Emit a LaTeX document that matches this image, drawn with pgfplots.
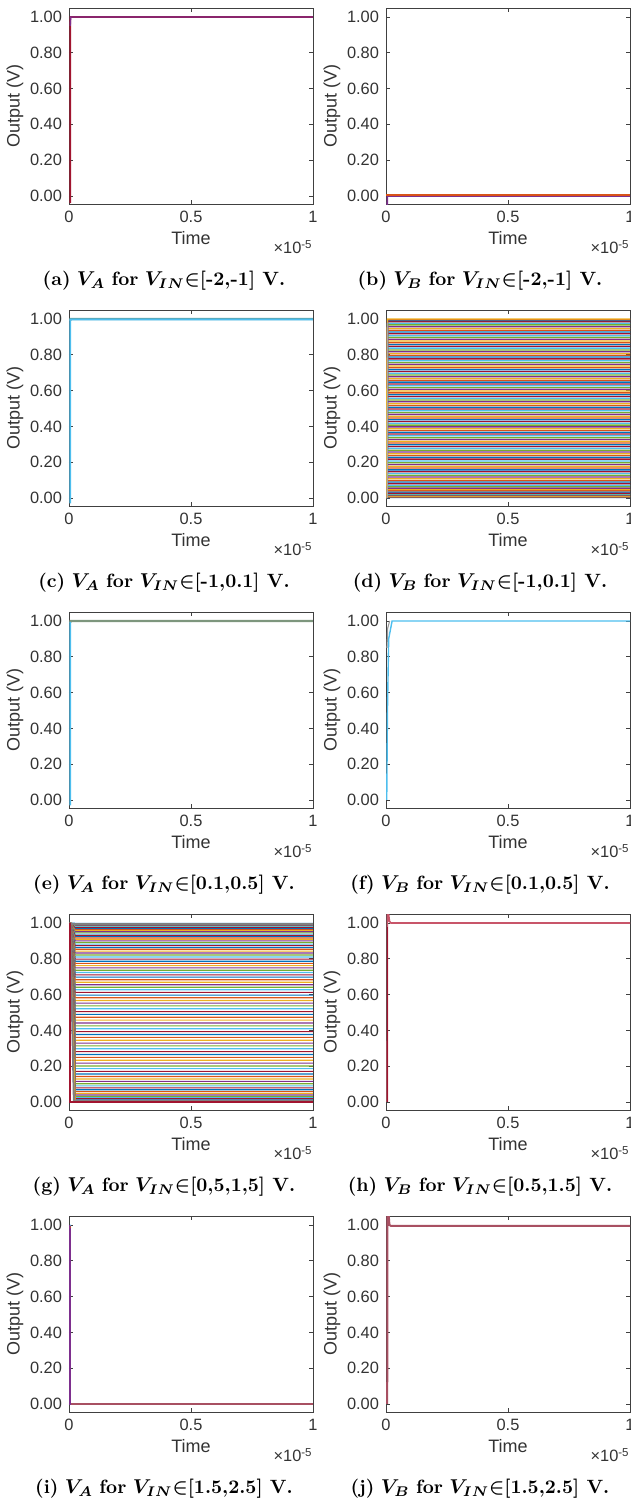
\documentclass[border=0pt]{standalone}
\usepackage{pgfplots}
\pgfplotsset{compat=1.18}
\usepackage{fontspec}
\newfontfamily\arial{Liberation Sans}

% MATLAB default line colours
\definecolor{c1}{RGB}{0,114,189}
\definecolor{c2}{RGB}{217,83,25}
\definecolor{c3}{RGB}{237,177,32}
\definecolor{c4}{RGB}{126,47,142}
\definecolor{c5}{RGB}{119,172,48}
\definecolor{c6}{RGB}{77,190,238}
\definecolor{c7}{RGB}{162,20,47}
\definecolor{tealgray}{RGB}{95,160,165}
\definecolor{olivegray}{RGB}{125,150,125}
\definecolor{hred}{RGB}{200,85,105}
\definecolor{mauve}{RGB}{168,80,98}

\newcommand{\tickfont}{\arial\fontsize{8.2}{9}\selectfont}
\newcommand{\labfont}{\arial\fontsize{9}{10}\selectfont}

\pgfplotsset{
  mat/.style={
    scale only axis, width=122pt, height=98pt,
    anchor=north west,
    xmin=0, xmax=1e-5, ymin=-0.045, ymax=1.05,
    xtick={0,0.5e-5,1e-5}, xticklabels={0,0.5,1},
    scaled x ticks=false, scaled y ticks=false,
    ytick={0,0.2,0.4,0.6,0.8,1},
    yticklabel={\pgfmathprintnumber[fixed,fixed zerofill,precision=2]{\tick}},
    /pgf/number format/assume math mode=true,
    tick align=inside, major tick length=2pt,
    axis line style={black!75, line width=0.4pt},
    every tick/.style={black!75, line width=0.4pt},
    tick label style={font=\tickfont, text=black!80},
    label style={font=\labfont, text=black!80},
    xlabel={Time}, ylabel={Output (V)},
    xlabel style={yshift=2.5pt},
    ylabel style={yshift=-3.5pt},
    clip mode=individual,
    every axis plot/.append style={line width=0.55pt},
    cycle list={{c1},{c2},{c3},{c4},{c5},{c6},{c7}},
  },
}
\newcommand{\scalelabel}{\node[anchor=north east, inner sep=0pt, font=\tickfont, text=black!80]
  at ([yshift=-18pt]rel axis cs:1,0) {×10\textsuperscript{-5}};}

\begin{document}
\begin{tikzpicture}
\useasboundingbox (0,0) rectangle (315.5pt,-755.5pt);

% (a)
\begin{axis}[mat, at={(34.5pt,-4pt)}]
\addplot[c7, line width=0.8pt] coordinates {(5e-8,-0.04) (5e-8,0.98) (6e-8,1) (1e-5,1)};
\addplot[c4, line width=0.7pt] coordinates {(5e-8,0.95) (7e-8,1) (1e-5,1)};
\scalelabel
\end{axis}

% (b)
\begin{axis}[mat, at={(193pt,-4pt)}]
\addplot[c4, line width=0.8pt] coordinates {(5e-8,-0.05) (6e-8,0) (1e-5,0)};
\addplot[c7] coordinates {(0,0.002) (1e-5,0.002)};
\addplot[c2, line width=0.7pt] coordinates {(0,0.006) (1e-5,0.006)};
\scalelabel
\end{axis}

% (c)
\begin{axis}[mat, at={(34.5pt,-155pt)}]
\addplot[tealgray, line width=1.1pt] coordinates {(5e-8,0.99) (6e-8,1) (1e-5,1)};
\addplot[c6, line width=0.8pt] coordinates {(5e-8,-0.03) (5e-8,0.995) (6e-8,0.997) (1e-5,0.997)};
\scalelabel
\end{axis}

% (d)
\begin{axis}[mat, at={(193pt,-155pt)}]
\pgfplotsinvokeforeach{0.002,0.006,0.010,0.014,0.018,0.022,0.027,0.033,0.040,0.047,
 0.055,0.063,0.071,0.080,0.089,0.098,0.107,0.117,0.127,0.137,0.147,0.157,0.167,0.177,
 0.187,0.197,0.207,0.217,0.227,0.237,0.247,0.257,0.267,0.277,0.287,0.297,0.307,0.317,
 0.327,0.337,0.347,0.357,0.367,0.377,0.387,0.397,0.407,0.417,0.427,0.437,0.447,0.457,
 0.467,0.477,0.487,0.497,0.507,0.517,0.527,0.537,0.547,0.557,0.567,0.577,0.587,0.597,
 0.607,0.617,0.627,0.637,0.647,0.657,0.667,0.677,0.687,0.697,0.707,0.717,0.727,0.737,
 0.747,0.757,0.767,0.777,0.787,0.797,0.807,0.817,0.827,0.837,0.847,0.857,0.867,0.877,
 0.887,0.897,0.907,0.917,0.927,0.937,0.947,0.957,0.967,0.976,0.984,0.991,0.996,1.000}{
  \addplot+[no marks, line width=0.65pt] coordinates {(0,0) (6e-8,#1) (1e-5,#1)};
}
\addplot[gray!70, line width=0.6pt] coordinates {(5e-8,0) (6e-8,0.98)};
\scalelabel
\end{axis}

% (e)
\begin{axis}[mat, at={(34.5pt,-306pt)}]
\addplot[olivegray, line width=1.1pt] coordinates {(5e-8,0.99) (6e-8,1) (1e-5,1)};
\addplot[c6, line width=0.8pt] coordinates {(5e-8,-0.03) (5e-8,0.99) (6e-8,0.995)};
\scalelabel
\end{axis}

% (f)
\begin{axis}[mat, at={(193pt,-306pt)}]
\addplot[gray!80] coordinates {(4e-8,0.85) (7e-8,0.96) (1.5e-7,1.0)};
\addplot[c6, line width=0.7pt] coordinates {(3e-8,0) (6e-8,0.5) (1.1e-7,0.9) (2.5e-7,1.0) (1e-5,1.0)};
\scalelabel
\end{axis}

% (g)
\begin{axis}[mat, at={(34.5pt,-457pt)}]
\pgfplotsinvokeforeach{0.998,0.994,0.990,0.986,0.982,0.978,0.973,0.968,0.963,0.957,
 0.951,0.945,0.938,0.931,0.924,0.916,0.908,0.900,0.891,0.882,0.873,0.863,0.853,0.843,
 0.832,0.821,0.810,0.798,0.786,0.774,0.762,0.749,0.736,0.723,0.710,0.697,0.683,0.669,
 0.655,0.641,0.627,0.612,0.597,0.582,0.567,0.552,0.537,0.521,0.505,0.489,0.473,0.457,
 0.441,0.425,0.409,0.393,0.377,0.361,0.345,0.329,0.313,0.297,0.281,0.265,0.249,0.233,
 0.217,0.201,0.186,0.171,0.156,0.142,0.128,0.115,0.102,0.090,0.079,0.068,0.058,0.048,
 0.039,0.031,0.024,0.018,0.012,0.007,0.004}{
  \addplot+[no marks] coordinates {(5e-8,1) (2.5e-7,#1) (1e-5,#1)};
}
\addplot[gray, line width=1pt] coordinates {(5e-8,1) (2e-7,0.006) (1e-5,0.006)};
\addplot[gray, line width=1pt] coordinates {(5e-8,0.997) (1e-5,0.997)};
\addplot[c7, line width=1pt] coordinates {(5e-8,1.0) (5e-8,0) (1e-5,0)};
\scalelabel
\end{axis}

% (h)
\begin{axis}[mat, at={(193pt,-457pt)}]
\addplot[hred, line width=0.8pt] coordinates {(5e-8,0) (6e-8,1.08) (9e-8,1.07) (1.4e-7,1.01) (2e-7,1.0) (1e-5,1.0)};
\addplot[c7] coordinates {(5e-8,0) (5e-8,0.98)};
\scalelabel
\end{axis}

% (i)
\begin{axis}[mat, at={(34.5pt,-608pt)}]
\addplot[mauve, line width=1pt] coordinates {(0,0) (1e-5,0)};
\addplot[c4, line width=1pt] coordinates {(5e-8,1.0) (5e-8,0) (6e-8,0)};
\addplot[c2] coordinates {(5e-8,0.99) (7e-8,0.985)};
\addplot[c6] coordinates {(5e-8,1.0) (7e-8,0.998)};
\scalelabel
\end{axis}

% (j)
\begin{axis}[mat, at={(193pt,-608pt)}]
\addplot[mauve, line width=1pt] coordinates {(5e-8,0) (6e-8,1.09) (1e-7,1.08) (1.4e-7,1.0) (2e-7,0.995) (1e-5,0.995)};
\scalelabel
\end{axis}

% captions
\begin{scope}[every node/.style={font=\fontsize{9.6}{11}\selectfont\boldmath}]
\node at (82pt,-140.5pt)  {\textbf{(a)} $V_A$ \textbf{for} $V_{IN}{\in}$\textbf{[-2,-1] V.}};
\node at (240pt,-140.5pt) {\textbf{(b)} $V_B$ \textbf{for} $V_{IN}{\in}$\textbf{[-2,-1] V.}};
\node at (82pt,-291.5pt)  {\textbf{(c)} $V_A$ \textbf{for} $V_{IN}{\in}$\textbf{[-1,0.1] V.}};
\node at (240pt,-291.5pt) {\textbf{(d)} $V_B$ \textbf{for} $V_{IN}{\in}$\textbf{[-1,0.1] V.}};
\node at (82pt,-442.5pt)  {\textbf{(e)} $V_A$ \textbf{for} $V_{IN}{\in}$\textbf{[0.1,0.5] V.}};
\node at (240pt,-442.5pt) {\textbf{(f)} $V_B$ \textbf{for} $V_{IN}{\in}$\textbf{[0.1,0.5] V.}};
\node at (82pt,-593.5pt)  {\textbf{(g)} $V_A$ \textbf{for} $V_{IN}{\in}$\textbf{[0,5,1,5] V.}};
\node at (240pt,-593.5pt) {\textbf{(h)} $V_B$ \textbf{for} $V_{IN}{\in}$\textbf{[0.5,1.5] V.}};
\node at (82pt,-744.5pt)  {\textbf{(i)} $V_A$ \textbf{for} $V_{IN}{\in}$\textbf{[1.5,2.5] V.}};
\node at (240pt,-744.5pt) {\textbf{(j)} $V_B$ \textbf{for} $V_{IN}{\in}$\textbf{[1.5,2.5] V.}};
\end{scope}
\end{tikzpicture}
\end{document}
